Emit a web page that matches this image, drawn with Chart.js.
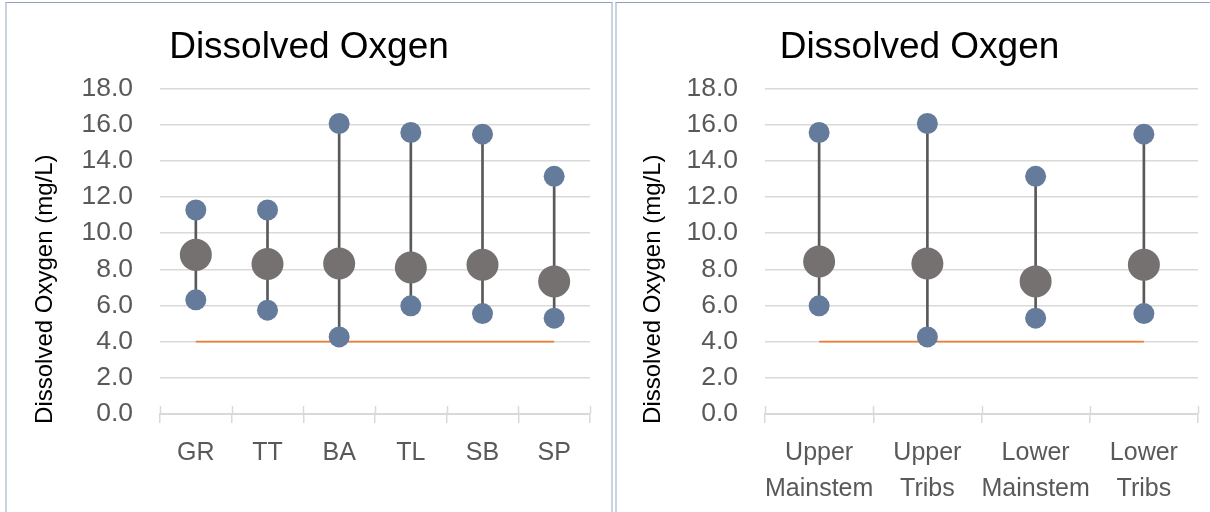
<!DOCTYPE html>
<html>
<head>
<meta charset="utf-8">
<script src="https://cdn.jsdelivr.net/npm/chart.js@4.4.1/dist/chart.umd.min.js"></script>
<style>
  html, body { margin: 0; padding: 0; background: #fff; overflow: hidden; width: 1210px; height: 512px; }
  .panel {
    position: absolute; top: 2px; height: 520px; box-sizing: border-box;
    border-top: 1px solid #8f9fbd; border-left: 2px solid #c9d3e1; background: #fff;
  }
  #p1 { left: 5px; width: 608px; border-right: 2px solid #c9d3e1; }
  #p2 { left: 615px; width: 607px; }
  .panel canvas { display: block; }
</style>
</head>
<body>
<div class="panel" id="p1"><canvas id="siteChart" width="604" height="509"></canvas></div>
<div class="panel" id="p2"><canvas id="regionChart" width="605" height="509"></canvas></div>
<script>
// Valores
const siteLabels = ['GR', 'TT', 'BA', 'TL', 'SB', 'SP'];
const siteMax = [11.28, 11.28, 16.06, 15.56, 15.47, 13.14];
const siteMean = [8.80, 8.29, 8.32, 8.10, 8.25, 7.33];
const siteMin = [6.31, 5.74, 4.26, 5.98, 5.55, 5.30];

const regionLabels = [['Upper', 'Mainstem'], ['Upper', 'Tribs'], ['Lower', 'Mainstem'], ['Lower', 'Tribs']];
const regionMax = [15.56, 16.06, 13.14, 15.47];
const regionMean = [8.43, 8.32, 7.33, 8.25];
const regionMin = [5.98, 4.26, 5.30, 5.55];

const doStandard = 4.0;
const yMin = 0, yMax = 18, yStep = 2;

const FONT = "'Liberation Sans', Arial, sans-serif";
const GRID = '#d9d9d9';

// marcas en cruz del eje x (parte de arriba)
const crossTicks = {
  id: 'crossTicks',
  afterDraw(chart) {
    const x = chart.scales.x;
    const c = chart.ctx;
    c.save();
    c.strokeStyle = GRID;
    c.lineWidth = 1.5;
    for (let i = 0; i <= x.getLabels().length; i++) {
      const px = Math.round(x.getPixelForValue(i - 0.5)) + 0.5;
      c.beginPath();
      c.moveTo(px, x.top - 8);
      c.lineTo(px, x.top);
      c.stroke();
    }
    c.restore();
  }
};

// titulo del eje y, un poco mas abajo que el centro (como en Excel)
const yAxisTitle = {
  id: 'yAxisTitle',
  afterDraw(chart, args, o) {
    const area = chart.chartArea;
    const c = chart.ctx;
    c.save();
    c.translate(o.x, (area.top + area.bottom) / 2 + o.shift);
    c.rotate(-Math.PI / 2);
    c.fillStyle = '#000';
    c.font = '24px ' + FONT;
    c.textAlign = 'center';
    c.textBaseline = 'middle';
    c.fillText('Dissolved Oxygen (mg/L)', 0, 0);
    c.restore();
  }
};

function makeChart(id, labels, mins, means, maxs, opts) {
  new Chart(document.getElementById(id).getContext('2d'), {
    data: {
      labels: labels,
      datasets: [
        {
          type: 'line',
          data: maxs,
          showLine: false,
          pointRadius: 10.5,
          pointBorderWidth: 0,
          pointBackgroundColor: '#647b9b',
          order: 0
        },
        {
          type: 'line',
          data: mins,
          showLine: false,
          pointRadius: 10.5,
          pointBorderWidth: 0,
          pointBackgroundColor: '#647b9b',
          order: 0
        },
        {
          type: 'line',
          data: means,
          showLine: false,
          pointRadius: 16,
          pointBorderWidth: 0,
          pointBackgroundColor: '#767171',
          order: 1
        },
        {
          type: 'line',
          data: labels.map(() => doStandard),
          borderColor: '#ed7d31',
          borderWidth: 1.6,
          pointRadius: 0,
          order: 2
        },
        {
          type: 'bar',
          data: mins.map((m, i) => [m, maxs[i]]),
          backgroundColor: '#595959',
          barThickness: 2,
          order: 3
        }
      ]
    },
    options: {
      responsive: false,
      animation: false,
      layout: { padding: { left: opts.side, right: opts.side, top: 0, bottom: 0 } },
      plugins: {
        legend: { display: false },
        tooltip: { enabled: false },
        title: {
          display: true,
          text: 'Dissolved Oxgen',
          color: '#000',
          font: { family: FONT, size: 37, weight: 'normal', lineHeight: 1.2 },
          padding: { top: 23, bottom: 18 }
        },
        yAxisTitle: { x: opts.titleX, shift: 38 }
      },
      scales: {
        x: {
          type: 'category',
          offset: true,
          grid: { offset: true, drawOnChartArea: false, color: GRID, lineWidth: 1.5, tickLength: 9 },
          border: { display: true, color: GRID, width: 2 },
          ticks: {
            color: '#595959',
            padding: 12,
            maxRotation: 0,
            autoSkip: false,
            font: { family: FONT, size: 25, lineHeight: 1.44 }
          },
          afterFit: s => { s.height = 98; }
        },
        y: {
          min: yMin,
          max: yMax,
          grid: { color: GRID, lineWidth: 1.5, drawTicks: false },
          border: { display: false },
          ticks: {
            stepSize: yStep,
            color: '#595959',
            padding: 27,
            font: { family: FONT, size: 26.5 },
            callback: v => Number(v).toFixed(1)
          },
          afterFit: s => { s.width = opts.left - opts.side; }
        }
      }
    },
    plugins: [crossTicks, yAxisTitle]
  });
}

makeChart('siteChart', siteLabels, siteMin, siteMean, siteMax, { left: 153, side: 21, titleX: 38 });
makeChart('regionChart', regionLabels, regionMin, regionMean, regionMax, { left: 148, side: 24, titleX: 36 });
</script>
</body>
</html>
